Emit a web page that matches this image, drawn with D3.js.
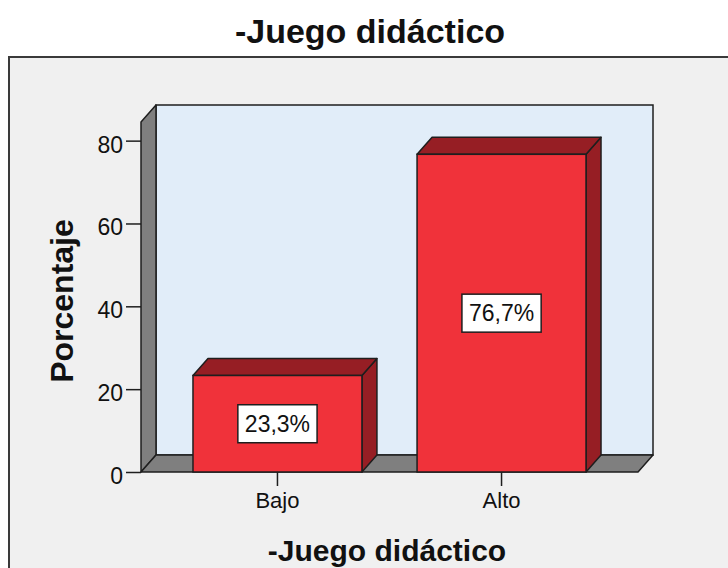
<!DOCTYPE html>
<html>
<head>
<meta charset="utf-8">
<script src="https://cdn.jsdelivr.net/npm/d3@7"></script>
<style>
  html, body { margin: 0; padding: 0; background: #ffffff; }
  svg { display: block; font-family: "Liberation Sans", Arial, sans-serif; }
</style>
</head>
<body>
<svg id="chart" width="728" height="568"></svg>
<script>
// Frequency distribution of the "Juego didáctico" levels (percent)
const categories = ["Bajo", "Alto"];
const percentages = [23.3, 76.7];
const valueLabels = ["23,3%", "76,7%"];
const yTicks = [0, 20, 40, 60, 80];
const chartTitle = "-Juego didáctico";
const xTitle = "-Juego didáctico";
const yTitle = "Porcentaje";

const svg = d3.select("#chart");

// Frame, plot extents and 3D depth offset
const frame = { x: 9, y: 57, w: 740, h: 540 };
const plot = { left: 141, right: 638, top: 122, bottom: 472 };
const depth = { dx: 15, dy: 17 };

const colors = {
  frameFill: "#f0f0f0",
  frameStroke: "#3a3a3a",
  wall: "#e1edf9",
  side: "#7f7f7f",
  edge: "#1e1e1e",
  barFront: "#f0323a",
  barDark: "#961e24"
};

const x = d3.scaleBand()
  .domain(categories)
  .range([plot.left, plot.right])
  .paddingInner(0.246)
  .paddingOuter(0.232);

const y = d3.scaleLinear()
  .domain([0, 84.5])
  .range([plot.bottom, plot.top]);

// Outer chart frame
svg.append("rect")
  .attr("x", frame.x).attr("y", frame.y)
  .attr("width", frame.w).attr("height", frame.h)
  .attr("fill", colors.frameFill)
  .attr("stroke", colors.frameStroke)
  .attr("stroke-width", 2);

// Title
svg.append("text")
  .attr("x", 370).attr("y", 43)
  .attr("text-anchor", "middle")
  .attr("font-size", 34).attr("font-weight", "bold")
  .attr("fill", "#111")
  .text(chartTitle);

const walls = svg.append("g");
const pts = p => p.map(d => d.join(",")).join(" ");

// Back wall
walls.append("rect")
  .attr("x", plot.left + depth.dx)
  .attr("y", y(84.5) - depth.dy)
  .attr("width", plot.right - plot.left)
  .attr("height", y(0) - y(84.5))
  .attr("fill", colors.wall)
  .attr("stroke", colors.edge)
  .attr("stroke-width", 1.5);

// Left side wall
walls.append("polygon")
  .attr("points", pts([
    [plot.left, y(84.5)],
    [plot.left + depth.dx, y(84.5) - depth.dy],
    [plot.left + depth.dx, y(0) - depth.dy],
    [plot.left, y(0)]
  ]))
  .attr("fill", colors.side)
  .attr("stroke", colors.edge)
  .attr("stroke-width", 1.5)
  .attr("stroke-linejoin", "round");

// Floor
walls.append("polygon")
  .attr("points", pts([
    [plot.left, y(0)],
    [plot.left + depth.dx, y(0) - depth.dy],
    [plot.right + depth.dx, y(0) - depth.dy],
    [plot.right, y(0)]
  ]))
  .attr("fill", colors.side)
  .attr("stroke", colors.edge)
  .attr("stroke-width", 1.5)
  .attr("stroke-linejoin", "round");

// Y axis (ticks on the front edge of the side wall)
const yAxis = svg.append("g")
  .attr("transform", `translate(${plot.left},0)`)
  .call(d3.axisLeft(y).tickValues(yTicks).tickSize(15).tickPadding(3).tickFormat(d3.format("d")));
yAxis.select(".domain").remove();
yAxis.selectAll(".tick line").attr("stroke", colors.edge).attr("stroke-width", 1.5);
yAxis.selectAll(".tick text")
  .attr("font-size", 23)
  .attr("font-family", "'Liberation Sans', Arial, sans-serif")
  .attr("fill", "#111")
  .attr("dy", "0.5em");

// Bars drawn as 3D boxes
const bars = svg.append("g").selectAll("g.bar")
  .data(categories.map((c, i) => ({ c, v: percentages[i], label: valueLabels[i] })))
  .join("g").attr("class", "bar");

bars.each(function(d) {
  const g = d3.select(this);
  const x0 = x(d.c), x1 = x(d.c) + x.bandwidth();
  const yt = y(d.v), yb = y(0);
  // side face
  g.append("polygon")
    .attr("points", pts([[x1, yt], [x1 + depth.dx, yt - depth.dy], [x1 + depth.dx, yb - depth.dy], [x1, yb]]))
    .attr("fill", colors.barDark).attr("stroke", colors.edge).attr("stroke-width", 1.5)
    .attr("stroke-linejoin", "round");
  // top face
  g.append("polygon")
    .attr("points", pts([[x0, yt], [x0 + depth.dx, yt - depth.dy], [x1 + depth.dx, yt - depth.dy], [x1, yt]]))
    .attr("fill", colors.barDark).attr("stroke", colors.edge).attr("stroke-width", 1.5)
    .attr("stroke-linejoin", "round");
  // front face
  g.append("rect")
    .attr("x", x0).attr("y", yt)
    .attr("width", x1 - x0).attr("height", yb - yt)
    .attr("fill", colors.barFront).attr("stroke", colors.edge).attr("stroke-width", 1.5);

  // value label in a white box at the centre of the front face
  const cx = (x0 + x1) / 2, cy = (yt + yb) / 2;
  const box = g.append("rect");
  const t = g.append("text")
    .attr("x", cx).attr("y", cy)
    .attr("text-anchor", "middle")
    .attr("dy", "0.36em")
    .attr("font-size", 23)
    .attr("fill", "#111")
    .text(d.label);
  const bb = t.node().getBBox();
  const padX = 7, boxH = 38;
  box.attr("x", bb.x - padX).attr("y", cy - boxH / 2)
    .attr("width", bb.width + padX * 2).attr("height", boxH)
    .attr("fill", "#ffffff").attr("stroke", colors.edge).attr("stroke-width", 1.5);
});

// Category axis along the front edge of the floor
const xAxis = svg.append("g")
  .attr("transform", `translate(0,${plot.bottom})`)
  .call(d3.axisBottom(x).tickSize(14).tickPadding(6));
xAxis.select(".domain").remove();
xAxis.selectAll(".tick line").attr("stroke", colors.edge).attr("stroke-width", 1.5);
xAxis.selectAll(".tick text")
  .attr("font-size", 22)
  .attr("font-family", "'Liberation Sans', Arial, sans-serif")
  .attr("fill", "#111");

// Axis titles
svg.append("text")
  .attr("x", 387).attr("y", 561)
  .attr("text-anchor", "middle")
  .attr("font-size", 30).attr("font-weight", "bold")
  .attr("fill", "#111")
  .text(xTitle);

svg.append("text")
  .attr("transform", "translate(73,301) rotate(-90)")
  .attr("text-anchor", "middle")
  .attr("font-size", 32).attr("font-weight", "bold")
  .attr("fill", "#111")
  .text(yTitle);
</script>
</body>
</html>
